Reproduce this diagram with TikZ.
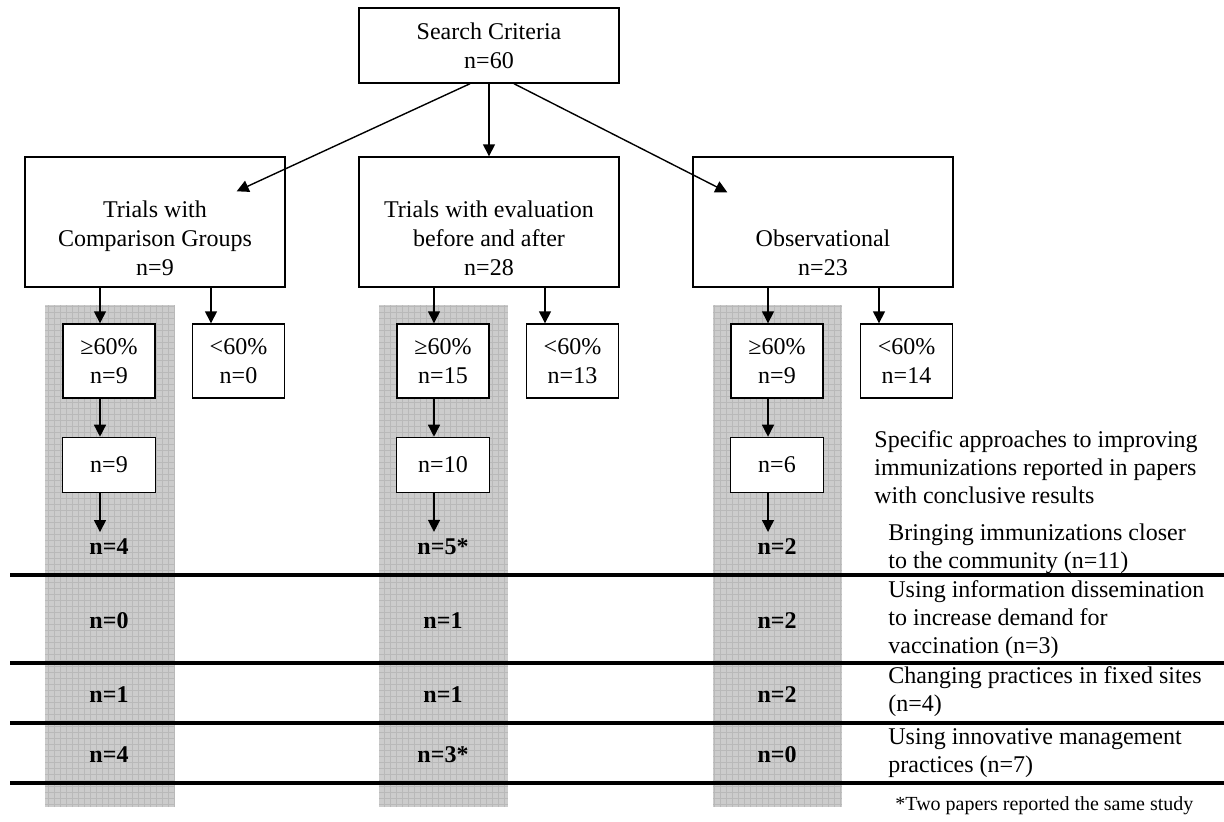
\documentclass[tikz,border=0pt]{standalone}
\usepackage{fontspec}
\setmainfont{Liberation Serif}
\usetikzlibrary{arrows.meta,positioning}
\newcommand{\boxfont}{\fontsize{12}{14.5}\selectfont}
\newcommand{\notefont}{\fontsize{10}{12}\selectfont}

\begin{document}
\begin{tikzpicture}[
    x=0.5pt, y=-0.5pt,
    block/.style={
        rectangle, draw=black, line width=0.7pt, fill=white,
        font=\boxfont, align=center, inner sep=0pt
    },
    group/.style={block, minimum width=130pt, minimum height=65pt},
    grouptext/.style={anchor=south, yshift=6pt, font=\boxfont, align=center, inner sep=0pt},
    share/.style={block, minimum width=46pt, minimum height=37pt},
    count/.style={block, minimum width=46.5pt, minimum height=27.5pt},
    result/.style={font=\boxfont\bfseries},
    arr/.style={-{Triangle[length=6pt, width=6pt]}, line width=0.7pt},
    shade/.style={fill=gray!40},
    hatch/.style={draw=gray!55, line width=0.25pt},
    rule/.style={line width=1.6pt},
    approach/.style={font=\fontsize{12}{14}\selectfont, align=left, anchor=west, inner sep=0pt}
]
\useasboundingbox (0,0) rectangle (1224,821);
% Shaded columns behind the >=60% chains
\fill[shade] (45,305) rectangle (174,807);
\fill[shade] (379,305) rectangle (508,807);
\fill[shade] (713,305) rectangle (842,807);
\draw[hatch, step=3pt] (45,305) grid (174,807);
\draw[hatch, step=3pt] (379,305) grid (508,807);
\draw[hatch, step=3pt] (713,305) grid (842,807);
% Rules between approaches
\draw[rule] (10,575) -- (1224,575);
\draw[rule] (10,663) -- (1224,663);
\draw[rule] (10,723) -- (1224,723);
\draw[rule] (10,783) -- (1224,783);
% Nodes -- search and study designs
\node[block, minimum width=130pt, minimum height=37.5pt] (search) at (489,45.5) {Search Criteria\\n=60};
\node[group, label={[grouptext]south:Trials with\\Comparison Groups\\n=9}] (cmp) at (155,222) {};
\node[group, label={[grouptext]south:Trials with evaluation\\before and after\\n=28}] (pre) at (489,222) {};
\node[group, label={[grouptext]south:Observational\\n=23}] (obs) at (823,222) {};
% Nodes -- split by share
\node[share] (hiA) at (109,361) {≥60\%\\n=9};
\node[share] (loA) at (238.5,361) {<60\%\\n=0};
\node[share] (hiB) at (443,361) {≥60\%\\n=15};
\node[share] (loB) at (572.5,361) {<60\%\\n=13};
\node[share] (hiC) at (777,361) {≥60\%\\n=9};
\node[share] (loC) at (906.5,361) {<60\%\\n=14};
\node[count, below=19pt of hiA] (midA) {n=9};
\node[count, below=19pt of hiB] (midB) {n=10};
\node[count, below=19pt of hiC] (midC) {n=6};
% Results per approach
\node[result] (rA1) at (109,547) {n=4};
\node[result] (rB1) at (443,547) {n=5*};
\node[result] (rC1) at (777,547) {n=2};
\node[result] (rA2) at (109,621) {n=0};
\node[result] (rB2) at (443,621) {n=1};
\node[result] (rC2) at (777,621) {n=2};
\node[result] (rA3) at (109,695) {n=1};
\node[result] (rB3) at (443,695) {n=1};
\node[result] (rC3) at (777,695) {n=2};
\node[result] (rA4) at (109,755) {n=4};
\node[result] (rB4) at (443,755) {n=3*};
\node[result] (rC4) at (777,755) {n=0};
% Edges
\draw[arr] ([xshift=-9.5pt]search.south) -- ([xshift=-24.5pt, yshift=-17.5pt]cmp.north east);
\draw[arr] (search) -- (pre);
\draw[arr] ([xshift=12.5pt]search.south) -- ([xshift=17.5pt, yshift=-18pt]obs.north west);
\draw[arr] ([xshift=-4.5pt]hiA.north |- cmp.south) -- ([xshift=-4.5pt]hiA.north);
\draw[arr] ([xshift=-13.75pt]loA.north |- cmp.south) -- ([xshift=-13.75pt]loA.north);
\draw[arr] ([xshift=-4.5pt]hiB.north |- pre.south) -- ([xshift=-4.5pt]hiB.north);
\draw[arr] ([xshift=-13.75pt]loB.north |- pre.south) -- ([xshift=-13.75pt]loB.north);
\draw[arr] ([xshift=-4.5pt]hiC.north |- obs.south) -- ([xshift=-4.5pt]hiC.north);
\draw[arr] ([xshift=-13.75pt]loC.north |- obs.south) -- ([xshift=-13.75pt]loC.north);
\draw[arr] ([xshift=-4.5pt]hiA.south) -- ([xshift=-4.5pt]midA.north);
\draw[arr] ([xshift=-4.5pt]hiB.south) -- ([xshift=-4.5pt]midB.north);
\draw[arr] ([xshift=-4.5pt]hiC.south) -- ([xshift=-4.5pt]midC.north);
\draw[arr] ([xshift=-4.5pt]midA.south) -- ([xshift=-4.5pt]midA.south |- rA1.north);
\draw[arr] ([xshift=-4.5pt]midB.south) -- ([xshift=-4.5pt]midB.south |- rB1.north);
\draw[arr] ([xshift=-4.5pt]midC.south) -- ([xshift=-4.5pt]midC.south |- rC1.north);
% Approaches
\node[approach] (intro) at (874,467) {Specific approaches to improving\\immunizations reported in papers\\with conclusive results};
\node[approach] (ap1) at (888,549) {Bringing immunizations closer\\to the community (n=11)};
\node[approach] (ap2) at (888,620) {Using information dissemination\\to increase demand for\\vaccination (n=3)};
\node[approach] (ap3) at (888,692) {Changing practices in fixed sites\\(n=4)};
\node[approach] (ap4) at (888,753) {Using innovative management\\practices (n=7)};
\node[font=\notefont, anchor=west, inner sep=0pt] (note) at (895,806) {*Two papers reported the same study};
\end{tikzpicture}
\end{document}
